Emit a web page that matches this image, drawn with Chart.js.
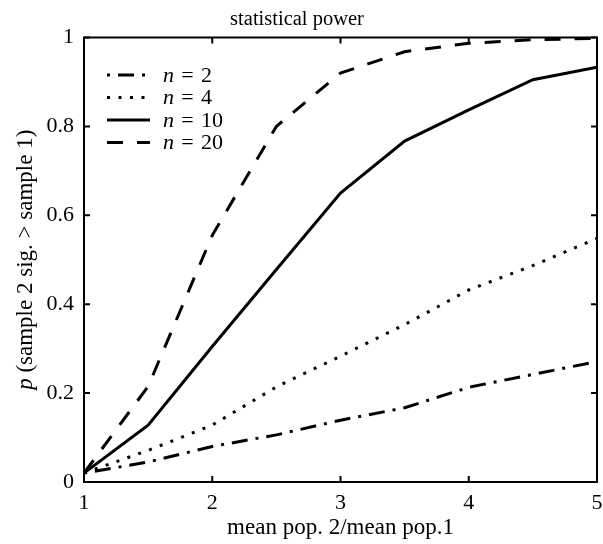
<!DOCTYPE html>
<html>
<head>
<meta charset="utf-8">
<script src="https://cdn.jsdelivr.net/npm/chart.js@4"></script>
<style>
  html, body { margin: 0; padding: 0; background: #fff; }
  #wrap { width: 603px; height: 544px; position: relative; }
</style>
</head>
<body>
<div id="wrap"><canvas id="powerChart"></canvas></div>
<script>
// statistical power curves
const ratios = [1, 1.5, 2, 2.5, 3, 3.5, 4, 4.5, 5];
const powerN2 = [0.02, 0.045, 0.08, 0.106, 0.139, 0.167, 0.213, 0.242, 0.271];
const powerN4 = [0.02, 0.071, 0.128, 0.214, 0.283, 0.354, 0.432, 0.487, 0.548];
const powerN10 = [0.02, 0.128, 0.305, 0.478, 0.65, 0.767, 0.837, 0.905, 0.933];
const powerN20 = [0.02, 0.215, 0.555, 0.80, 0.92, 0.968, 0.987, 0.995, 0.998];
const sampleSizes = ['2', '4', '10', '20'];
const xTicks = [1, 2, 3, 4, 5];
const yTicks = [0, 0.2, 0.4, 0.6, 0.8, 1];

const SERIF = '"Liberation Serif", "DejaVu Serif", serif';
const dashStyles = [[16, 8, 3, 8], [3, 8.5], [], [16, 14]];
const dashOffsets = [24, 0, 0, 0];

function toPoints(ys) {
    return ratios.map((x, i) => ({ x: x, y: ys[i] }));
}

const seriesList = [powerN2, powerN4, powerN10, powerN20];

// frame, inward ticks, title, axis labels and legend
const decorPlugin = {
    id: 'decor',
    afterDraw(chart) {
        const ctx = chart.ctx;
        const area = chart.chartArea;
        const xs = chart.scales.x;
        const ys = chart.scales.y;
        const tickLen = 6;

        ctx.save();
        ctx.strokeStyle = '#000';
        ctx.lineWidth = 2;
        ctx.setLineDash([]);
        ctx.strokeRect(area.left, area.top, area.right - area.left, area.bottom - area.top);

        ctx.beginPath();
        xTicks.forEach(v => {
            const px = xs.getPixelForValue(v);
            ctx.moveTo(px, area.bottom);
            ctx.lineTo(px, area.bottom - tickLen);
            ctx.moveTo(px, area.top);
            ctx.lineTo(px, area.top + tickLen);
        });
        yTicks.forEach(v => {
            const py = ys.getPixelForValue(v);
            ctx.moveTo(area.left, py);
            ctx.lineTo(area.left + tickLen, py);
            ctx.moveTo(area.right, py);
            ctx.lineTo(area.right - tickLen, py);
        });
        ctx.stroke();

        ctx.fillStyle = '#000';
        // title
        ctx.font = '20.5px ' + SERIF;
        ctx.textAlign = 'center';
        ctx.textBaseline = 'alphabetic';
        ctx.fillText('statistical power', 297, 25);

        // x axis label
        ctx.font = '23px ' + SERIF;
        ctx.fillText('mean pop. 2/mean pop.1', (area.left + area.right) / 2, 534);

        // y axis label, italic p
        ctx.save();
        ctx.translate(32, (area.top + area.bottom) / 2);
        ctx.rotate(-Math.PI / 2);
        const pPart = 'p';
        const rest = ' (sample 2 sig. > sample 1)';
        ctx.font = 'italic 23px ' + SERIF;
        const wP = ctx.measureText(pPart).width;
        ctx.font = '23px ' + SERIF;
        const wR = ctx.measureText(rest).width;
        const start = -(wP + wR) / 2;
        ctx.textAlign = 'left';
        ctx.font = 'italic 23px ' + SERIF;
        ctx.fillText(pPart, start, 0);
        ctx.font = '23px ' + SERIF;
        ctx.fillText(rest, start + wP, 0);
        ctx.restore();

        // legend
        const lx0 = 107, lx1 = 150, tx = 163;
        const rowY = [75, 97.5, 120, 142.5];
        sampleSizes.forEach((n, i) => {
            ctx.beginPath();
            ctx.lineWidth = 3;
            ctx.setLineDash(dashStyles[i]);
            ctx.lineDashOffset = dashOffsets[i];
            ctx.moveTo(lx0, rowY[i]);
            ctx.lineTo(lx1, rowY[i]);
            ctx.stroke();
            ctx.setLineDash([]);
            ctx.lineDashOffset = 0;

            ctx.textAlign = 'left';
            ctx.textBaseline = 'middle';
            ctx.font = 'italic 22px ' + SERIF;
            ctx.fillText('n', tx, rowY[i] + 1);
            const wn = ctx.measureText('n').width;
            ctx.font = '22px ' + SERIF;
            ctx.fillText('\u2004=\u2004' + n, tx + wn, rowY[i] + 1);
        });
        ctx.restore();
    }
};

const ctx = document.getElementById('powerChart').getContext('2d');
new Chart(ctx, {
    type: 'line',
    data: {
        datasets: seriesList.map((ys, i) => ({
            label: 'n = ' + sampleSizes[i],
            data: toPoints(ys),
            borderColor: '#000',
            borderWidth: 3,
            borderDash: dashStyles[i],
            borderDashOffset: dashOffsets[i],
            pointRadius: 0,
            tension: 0,
            fill: false
        }))
    },
    options: {
        responsive: true,
        maintainAspectRatio: false,
        animation: false,
        layout: { padding: { top: 37.5, right: 6, left: 0, bottom: 0 } },
        plugins: {
            legend: { display: false },
            tooltip: { enabled: false },
            title: { display: false }
        },
        scales: {
            x: {
                type: 'linear',
                min: 1,
                max: 5,
                afterFit(scale) {
                    scale.height = 62;
                    scale.paddingLeft = 0;
                    scale.paddingRight = 0;
                },
                afterBuildTicks(scale) { scale.ticks = xTicks.map(v => ({ value: v })); },
                ticks: { color: '#000', font: { family: SERIF, size: 22 }, padding: 8, maxRotation: 0 },
                grid: { display: false, drawTicks: false },
                border: { display: false }
            },
            y: {
                min: 0,
                max: 1,
                afterFit(scale) {
                    scale.width = 84;
                    scale.paddingTop = 0;
                    scale.paddingBottom = 0;
                },
                afterBuildTicks(scale) { scale.ticks = yTicks.map(v => ({ value: v })); },
                ticks: {
                    color: '#000',
                    font: { family: SERIF, size: 22 },
                    padding: 10,
                    callback: v => String(Math.round(v * 10) / 10)
                },
                grid: { display: false, drawTicks: false },
                border: { display: false }
            }
        }
    },
    plugins: [decorPlugin]
});
</script>
</body>
</html>
